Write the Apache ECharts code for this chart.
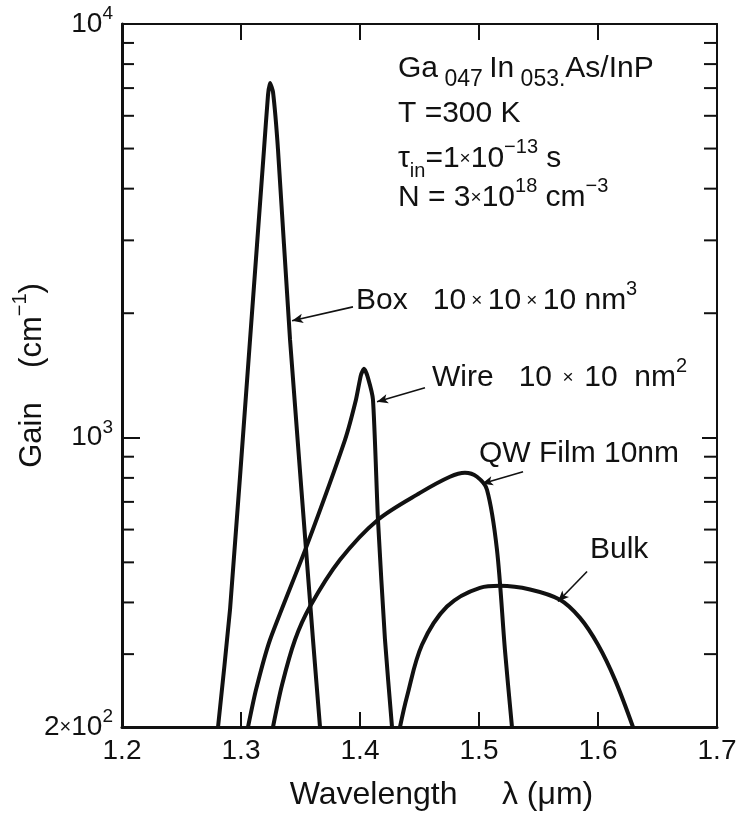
<!DOCTYPE html>
<html>
<head>
<meta charset="utf-8">
<script src="https://cdn.jsdelivr.net/npm/echarts@6/dist/echarts.min.js"></script>
<style>
html, body { margin: 0; padding: 0; background: #fff; }
#chart { width: 736px; height: 819px; }
</style>
</head>
<body>
<div id="chart"></div>
<script>
// wavelength (um) and gain (cm^-1)
const boxWl = [1.2807, 1.2908, 1.3076, 1.3193, 1.3227, 1.3244, 1.3269, 1.3311, 1.3412, 1.3605, 1.3664];
const boxGain = [200, 385, 1726, 4966, 6737, 7202, 6849, 4966, 1726, 325, 200];

const wireWl = [1.3059, 1.3126, 1.3244, 1.3546, 1.3874, 1.3966, 1.4008, 1.4034, 1.4067, 1.4109, 1.4151, 1.421, 1.4269];
const wireGain = [200, 246, 325, 542, 989, 1236, 1419, 1468, 1396, 1236, 634, 325, 200];

const qwWl = [1.3269, 1.3345, 1.3454, 1.358, 1.3832, 1.4151, 1.4504, 1.4756, 1.4882, 1.4983, 1.5067, 1.5151, 1.5218, 1.5277];
const qwGain = [200, 253, 325, 391, 507, 634, 736, 805, 823, 805, 749, 536, 307, 200];

const bulkWl = [1.4336, 1.4395, 1.4521, 1.4731, 1.5008, 1.5176, 1.5429, 1.5681, 1.5849, 1.6, 1.6143, 1.6294];
const bulkGain = [200, 237, 316, 391, 434, 439, 430, 406, 367, 316, 260, 200];

// pointer arrows: [tail, head] in data coords
const boxArrow = [[1.3941, 2072], [1.3429, 1917]];
const wireArrow = [[1.4546, 1321], [1.4143, 1222]];
const qwArrow = [[1.537, 828], [1.5025, 774]];
const bulkArrow = [[1.5908, 475], [1.5664, 402]];

const xTicks = [1.2, 1.3, 1.4, 1.5, 1.6, 1.7];
const minorGain = [300, 400, 500, 600, 700, 800, 900, 2000, 3000, 4000, 5000, 6000, 7000, 8000, 9000];

const FONT = 'Liberation Sans';
const INK = '#111';

function zip(a, b) {
  return a.map(function (v, i) { return [v, b[i]]; });
}

function arrowLine(pair) {
  return {
    silent: true,
    symbol: ['none', 'arrow'],
    symbolSize: [7, 11],
    label: { show: false },
    lineStyle: { color: INK, width: 1.6, type: 'solid' },
    emphasis: { disabled: true },
    data: [[{ coord: pair[0] }, { coord: pair[1] }]]
  };
}

function curve(name, data, smooth, arrow) {
  return {
    name: name,
    type: 'line',
    data: data,
    showSymbol: false,
    smooth: smooth,
    clip: true,
    lineStyle: { color: INK, width: 4 },
    markLine: arrowLine(arrow)
  };
}

// rich styles for notes (line box 44px tall)
const noteRich = {
  m: { fontFamily: FONT, fontSize: 30, lineHeight: 44, color: INK },
  x: { fontFamily: FONT, fontSize: 19, lineHeight: 44, color: INK },
  sup: { fontFamily: FONT, fontSize: 20, lineHeight: 18, verticalAlign: 'top', color: INK },
  sub: { fontFamily: FONT, fontSize: 23, lineHeight: 13, verticalAlign: 'bottom', color: INK },
  subin: { fontFamily: FONT, fontSize: 20, lineHeight: 32, verticalAlign: 'bottom', color: INK }
};

const nameRich = {
  m: { fontFamily: FONT, fontSize: 31, lineHeight: 44, color: INK },
  sup: { fontFamily: FONT, fontSize: 20, lineHeight: 18, verticalAlign: 'top', color: INK }
};

// rich styles for tick labels
const tickRich = {
  m: { fontFamily: FONT, fontSize: 28, lineHeight: 40, color: INK },
  x: { fontFamily: FONT, fontSize: 20, lineHeight: 40, color: INK },
  sup: { fontFamily: FONT, fontSize: 19, lineHeight: 16, verticalAlign: 'top', color: INK }
};

function note(x, y, text) {
  return {
    type: 'text',
    left: x,
    top: y,
    style: { text: text, rich: noteRich, fill: INK }
  };
}

const chart = echarts.init(document.getElementById('chart'));
chart.setOption({
  animation: false,
  backgroundColor: '#fff',
  grid: { left: 122, right: 19, top: 24, bottom: 92, outerBoundsMode: 'none', containLabel: false },
  xAxis: [
    {
      type: 'value',
      min: 1.2,
      max: 1.7,
      interval: 0.1,
      name: 'Wavelength     λ (μm)',
      nameLocation: 'middle',
      nameGap: 52,
      nameTextStyle: { fontFamily: FONT, fontSize: 32, color: INK, padding: [0, 0, 0, 44] },
      axisLine: { lineStyle: { color: INK, width: 3 } },
      axisTick: { inside: true, length: 15, lineStyle: { color: INK, width: 2 } },
      axisLabel: {
        margin: 10,
        fontFamily: FONT,
        fontSize: 28,
        color: INK,
        formatter: function (v) { return v.toFixed(1); }
      },
      splitLine: { show: false }
    },
    {
      type: 'value',
      position: 'top',
      min: 1.2,
      max: 1.7,
      interval: 0.1,
      axisLine: { lineStyle: { color: INK, width: 2 } },
      axisTick: { inside: true, length: 16, lineStyle: { color: INK, width: 2 } },
      axisLabel: { show: false },
      splitLine: { show: false }
    }
  ],
  yAxis: [
    {
      type: 'log',
      logBase: 10,
      min: 200,
      max: 10000,
      name: '{m|Gain    (cm}{sup|−1}{m|)}',
      nameLocation: 'middle',
      nameGap: 68,
      nameMoveOverlap: false,
      nameRotate: 90,
      nameTextStyle: { rich: nameRich },
      axisLine: { lineStyle: { color: INK, width: 3 } },
      axisTick: { inside: true, length: 18, lineStyle: { color: INK, width: 2 } },
      axisLabel: {
        margin: 9,
        rich: tickRich,
        formatter: function (v) {
          if (Math.abs(v - 200) < 1) return '{m|2}{x|×}{m|10}{sup|2}';
          if (Math.abs(v - 1000) < 1) return '{m|10}{sup|3}';
          if (Math.abs(v - 10000) < 1) return '{m|10}{sup|4}';
          return '';
        }
      },
      splitLine: { show: false }
    },
    {
      type: 'log',
      logBase: 10,
      min: 200,
      max: 10000,
      position: 'right',
      axisLine: { lineStyle: { color: INK, width: 2 } },
      axisTick: { inside: true, length: 15, lineStyle: { color: INK, width: 2 } },
      axisLabel: { show: false },
      splitLine: { show: false }
    }
  ],
  series: [
    curve('Box', zip(boxWl, boxGain), 0.15, boxArrow),
    curve('Wire', zip(wireWl, wireGain), 0.2, wireArrow),
    curve('QW Film', zip(qwWl, qwGain), 0.3, qwArrow),
    curve('Bulk', zip(bulkWl, bulkGain), 0.35, bulkArrow),
    {
      // minor log ticks on left and right frame
      type: 'custom',
      silent: true,
      data: minorGain.map(function (g) { return [xTicks[0], g]; }),
      renderItem: function (params, api) {
        const g = api.value(1);
        const l = api.coord([xTicks[0], g]);
        const r = api.coord([xTicks[xTicks.length - 1], g]);
        return {
          type: 'group',
          children: [
            { type: 'line', shape: { x1: l[0], y1: l[1], x2: l[0] + 12, y2: l[1] }, style: { stroke: INK, lineWidth: 2 } },
            { type: 'line', shape: { x1: r[0], y1: r[1], x2: r[0] - 13, y2: r[1] }, style: { stroke: INK, lineWidth: 2 } }
          ]
        };
      }
    }
  ],
  graphic: [
    note(398, 54, '{m|Ga}{sub| 047 }{m|In}{sub| 053.}{m|As/InP}'),
    note(398, 99, '{m|T =300 K}'),
    note(398, 137, '{m|τ}{subin|in}{m|=1}{x|×}{m|10}{sup|−13}{m| s}'),
    note(398, 176, '{m|N = 3}{x|×}{m|10}{sup|18}{m| cm}{sup|−3}'),
    note(356, 279, '{m|Box   10}{x| × }{m|10}{x| × }{m|10 nm}{sup|3}'),
    note(432, 356, '{m|Wire   10}{x|  ×  }{m|10  nm}{sup|2}'),
    note(479, 439, '{m|QW Film 10nm}'),
    note(590, 535, '{m|Bulk}')
  ]
});
</script>
</body>
</html>
